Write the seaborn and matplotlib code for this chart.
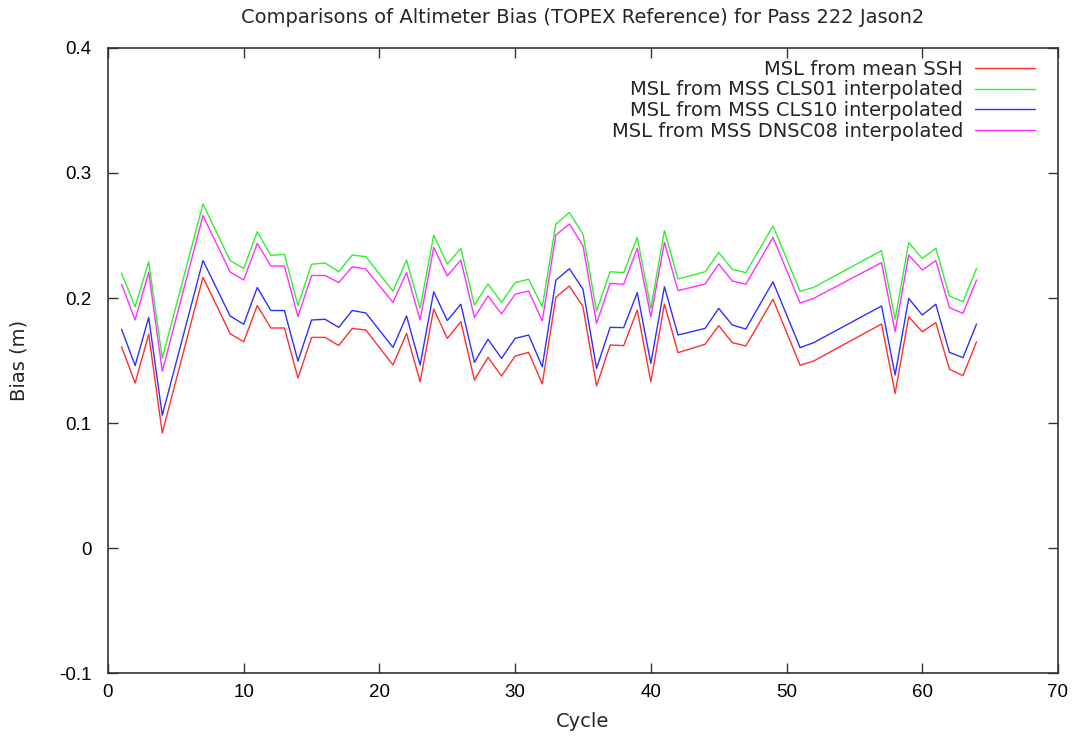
import matplotlib
matplotlib.use("Agg")
import matplotlib.pyplot as plt
import seaborn as sns
import pandas as pd

cycles = [1, 2, 3, 4, 7, 9, 10, 11, 12, 13, 14, 15, 16, 17, 18, 19, 21, 22, 23, 24,
          25, 26, 27, 28, 29, 30, 31, 32, 33, 34, 35, 36, 37, 38, 39, 40, 41, 42, 44, 45,
          46, 47, 49, 51, 52, 57, 58, 59, 60, 61, 62, 63, 64]

mean_ssh = [0.161, 0.132, 0.171, 0.092, 0.2166, 0.1715, 0.165, 0.194, 0.176, 0.176,
            0.136, 0.1685, 0.1685, 0.162, 0.1757, 0.1744, 0.1464, 0.1717, 0.133, 0.1912,
            0.1677, 0.181, 0.1344, 0.1525, 0.1376, 0.1536, 0.1565, 0.1312, 0.2005, 0.2096,
            0.193, 0.1296, 0.1624, 0.1619, 0.1904, 0.133, 0.1952, 0.1563, 0.163, 0.1779,
            0.1643, 0.1616, 0.199, 0.1462, 0.1496, 0.1792, 0.1237, 0.185, 0.173, 0.1803,
            0.143, 0.1379, 0.165]

cls01 = [0.2197, 0.193, 0.229, 0.1517, 0.2752, 0.2299, 0.2237, 0.253, 0.234, 0.235,
         0.194, 0.227, 0.228, 0.221, 0.2344, 0.233, 0.2055, 0.2302, 0.1917, 0.2504,
         0.2271, 0.2397, 0.1944, 0.2112, 0.1965, 0.2123, 0.215, 0.193, 0.2592, 0.2684,
         0.251, 0.1896, 0.221, 0.2203, 0.2485, 0.1917, 0.2539, 0.2152, 0.221, 0.2365,
         0.223, 0.2203, 0.2576, 0.2053, 0.2085, 0.2379, 0.183, 0.2443, 0.2317, 0.2397,
         0.2016, 0.197, 0.2237]

cls10 = [0.175, 0.146, 0.1845, 0.1062, 0.23, 0.1856, 0.179, 0.2084, 0.19, 0.19,
         0.1496, 0.1824, 0.183, 0.1765, 0.19, 0.188, 0.1605, 0.1856, 0.1464, 0.205,
         0.182, 0.195, 0.1485, 0.167, 0.1517, 0.1677, 0.1704, 0.145, 0.2142, 0.2234,
         0.207, 0.1437, 0.1765, 0.1763, 0.2043, 0.1477, 0.209, 0.1704, 0.1757, 0.1917,
         0.1784, 0.1752, 0.213, 0.1603, 0.1643, 0.1936, 0.1384, 0.1997, 0.1864, 0.195,
         0.1565, 0.1523, 0.1792]

dnsc08 = [0.211, 0.1824, 0.2206, 0.1413, 0.2659, 0.2208, 0.2144, 0.2437, 0.2256, 0.2256,
          0.185, 0.218, 0.218, 0.2123, 0.225, 0.2232, 0.1965, 0.2204, 0.1824, 0.2405,
          0.2176, 0.2304, 0.1843, 0.2016, 0.1872, 0.203, 0.2056, 0.1816, 0.2504, 0.2592,
          0.2418, 0.1797, 0.2117, 0.211, 0.2397, 0.185, 0.2445, 0.2059, 0.2112, 0.2272,
          0.2136, 0.211, 0.2485, 0.196, 0.1997, 0.2283, 0.173, 0.2344, 0.2224, 0.2299,
          0.1923, 0.1877, 0.2144]

labels = ["MSL from mean SSH",
          "MSL from MSS CLS01 interpolated",
          "MSL from MSS CLS10 interpolated",
          "MSL from MSS DNSC08 interpolated"]
colors = ["#ff3030", "#30f030", "#3030ff", "#ff30ff"]

frames = []
for lab, vals in zip(labels, [mean_ssh, cls01, cls10, dnsc08]):
    frames.append(pd.DataFrame({"Cycle": cycles, "Bias": vals, "series": lab}))
df = pd.concat(frames, ignore_index=True)

sns.set_style("ticks")
plt.rcParams["font.family"] = ["DejaVu Sans"]

fig = plt.figure(figsize=(10.82, 7.38), dpi=100)
ax = fig.add_axes([0.0998, 0.088, 0.878, 0.847])

sns.lineplot(data=df, x="Cycle", y="Bias", hue="series", hue_order=labels,
             palette=colors, linewidth=1.0, ax=ax, legend=True)

ax.set_xlim(0, 70)
ax.set_ylim(-0.1, 0.4)
ax.set_xticks(range(0, 71, 10))
ax.set_yticks([-0.1, 0, 0.1, 0.2, 0.3, 0.4])
ax.set_yticklabels(["-0.1", "0", "0.1", "0.2", "0.3", "0.4"])
ax.tick_params(direction="in", length=7, width=1, top=True, right=True,
               colors="#333333", labelcolor="black")
ax.tick_params(axis="y", pad=12)
ax.tick_params(axis="x", pad=8)
for t in ax.get_xticklabels() + ax.get_yticklabels():
    t.set_fontfamily("Liberation Sans")
    t.set_fontsize(13.5)
for s in ax.spines.values():
    s.set_visible(True)
    s.set_linewidth(1.2)
    s.set_color("#333333")

ax.set_xlabel("Cycle", fontsize=14, labelpad=8)
ax.set_ylabel("Bias (m)", fontsize=14, labelpad=22)
ax.set_title("Comparisons of Altimeter Bias (TOPEX Reference) for Pass 222 Jason2",
             fontsize=14, pad=18)

handles, _ = ax.get_legend_handles_labels()
ax.legend(handles, labels, loc="upper right", frameon=False, markerfirst=False,
          fontsize=14, handlelength=3.1, handletextpad=0.6, labelspacing=0.09,
          borderaxespad=0, bbox_to_anchor=(0.984, 0.9936))

fig.savefig("out.png", dpi=100)
